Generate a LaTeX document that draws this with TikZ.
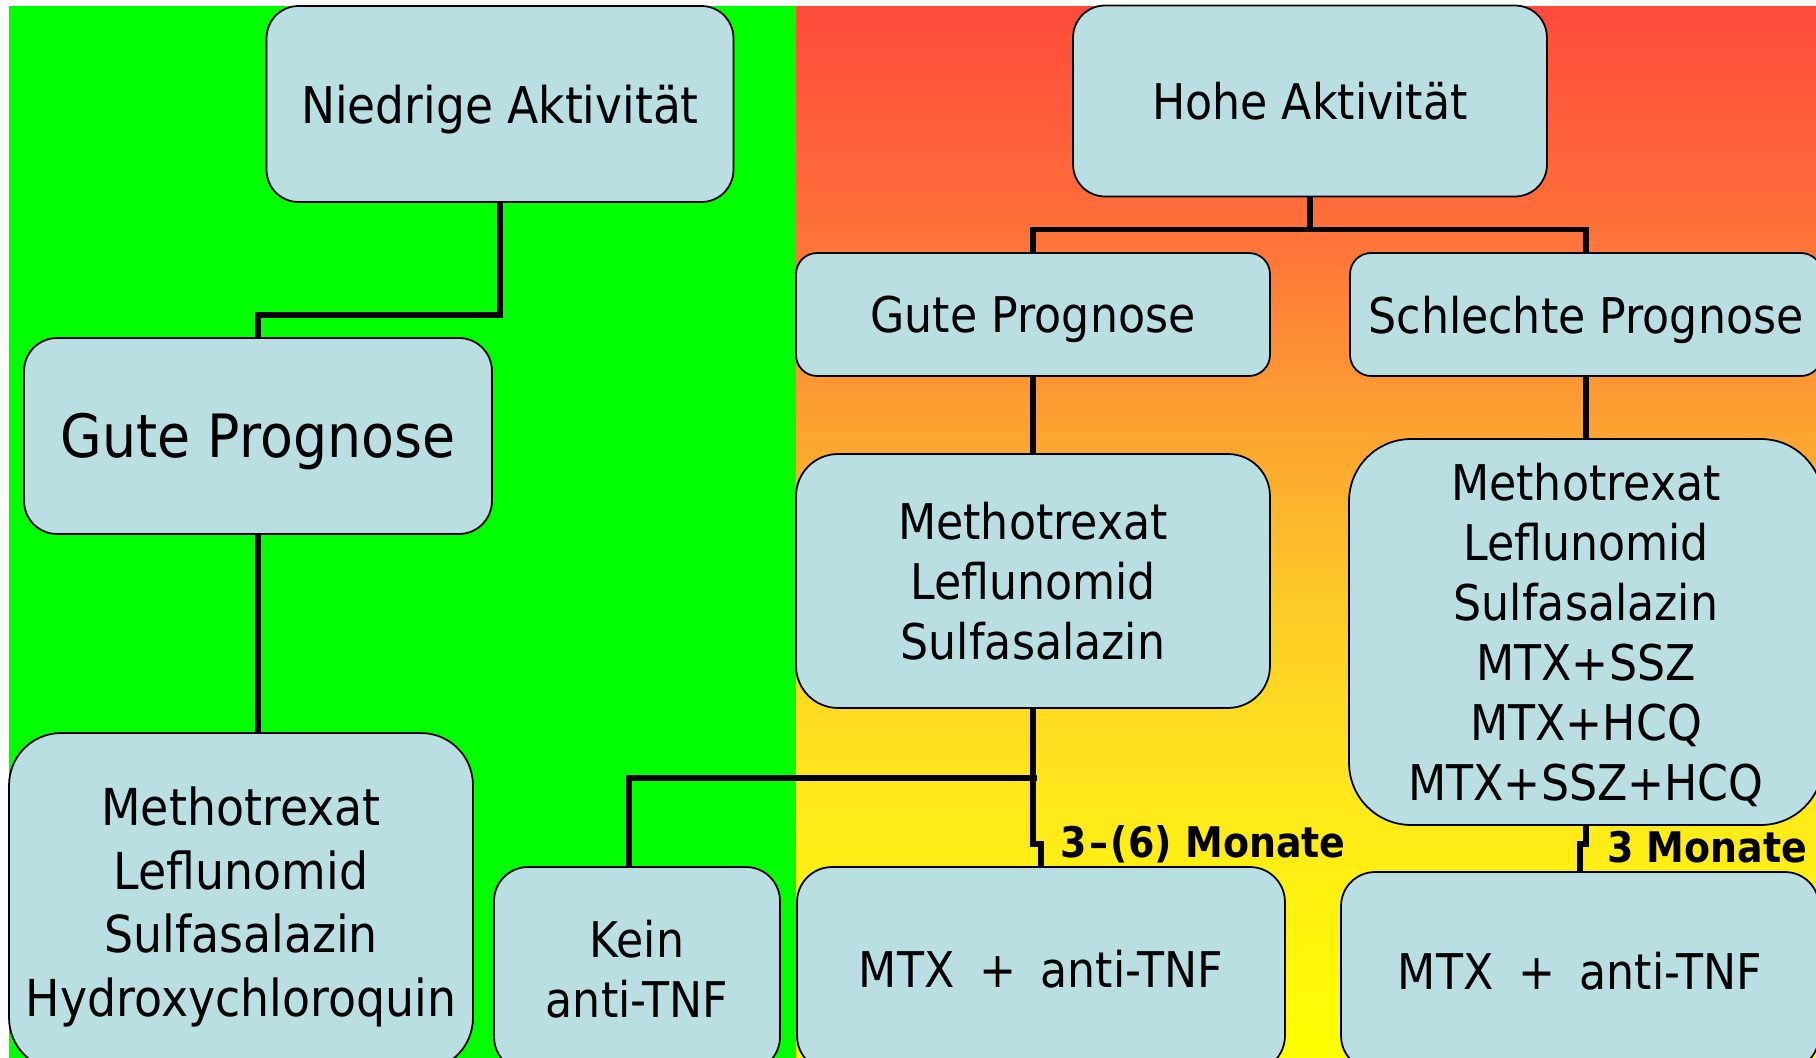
\documentclass[tikz,border=0pt]{standalone}
\usepackage{fontspec}
\setmainfont{DejaVu Sans}[FakeStretch=0.9]
\definecolor{boxfill}{RGB}{186,223,226}
\definecolor{ga}{RGB}{255,75,60}
\definecolor{gb}{RGB}{255,110,58}
\definecolor{gc}{RGB}{252,155,50}
\definecolor{gd}{RGB}{253,200,40}
\definecolor{ge}{RGB}{255,232,28}
\definecolor{gf}{RGB}{255,255,0}
\pgfdeclareverticalshading{hotgrad}{100bp}{color(0bp)=(gf); color(25bp)=(gf); color(37.5bp)=(ge); color(47bp)=(gd); color(56.5bp)=(gc); color(65bp)=(gb); color(75bp)=(ga); color(100bp)=(ga)}
\tikzset{
  box/.style={draw=black, line width=1pt, fill=boxfill, align=center, inner sep=0pt,
    text depth=0pt, font=\fontsize{28}{34.2}\selectfont},
  conn/.style={line width=3.2pt, draw=black},
  lab/.style={inner sep=0pt, anchor=base west, font=\fontsize{24}{28}\selectfont\bfseries},
}
\begin{document}
\begin{tikzpicture}[x=0.02cm, y=-0.02cm]
\useasboundingbox (0,0) rectangle (1816,1058);
\fill[white] (0,0) rectangle (1816,1058);
\begin{scope}
\clip (0,0) rectangle (1816,1058);
\fill[green] (9,6) rectangle (796,1058);
\shade[shading=hotgrad] (796,6) rectangle (1816,1058);

% boxes
\node[box, minimum width=9.34cm, minimum height=3.92cm, rounded corners=0.64cm, font=\fontsize{28.8}{34.2}\selectfont] (niedrig) at (500,104) {Niedrige Aktivität};
\node[box, minimum width=9.48cm, minimum height=3.82cm, rounded corners=0.64cm] (hohe) at (1310,101) {Hohe Aktivität};
\node[box, minimum width=9.36cm, minimum height=3.92cm, rounded corners=0.66cm, font=\fontsize{34}{40}\selectfont, text height=24.8pt, text depth=0pt] (guteL) at (258,436) {Gute Prognose};
\node[box, minimum width=9.48cm, minimum height=2.46cm, rounded corners=0.42cm] (guteR) at (1033,314.5) {Gute Prognose};
\node[box, minimum width=9.44cm, minimum height=2.46cm, rounded corners=0.42cm] (schlecht) at (1586,314.5) {Schlechte Prognose};
\node[box, minimum width=9.48cm, minimum height=5.08cm, rounded corners=0.84cm] (medsM) at (1033,581) {Methotrexat\\Leflunomid\\Sulfasalazin};
\node[box, minimum width=9.48cm, minimum height=7.72cm, rounded corners=1.24cm] (medsR) at (1586,632) {Methotrexat\\Leflunomid\\Sulfasalazin\\MTX+SSZ\\MTX+HCQ\\MTX+SSZ+HCQ};
\node[box, minimum width=9.28cm, minimum height=6.74cm, rounded corners=1.04cm, font=\fontsize{29}{36.2}\selectfont] (medsL) at (241,901.5) {Methotrexat\\Leflunomid\\Sulfasalazin\\Hydroxychloroquin};
\node[box, minimum width=5.72cm, minimum height=4.08cm, rounded corners=0.68cm] (kein) at (637,969) {Kein\\anti-TNF};
\node[box, minimum width=9.76cm, minimum height=4.08cm, rounded corners=0.7cm] (mtxM) at (1041,969) {MTX\hspace{0.5em}+\hspace{0.5em}anti-TNF};
\node[box, minimum width=9.56cm, minimum height=3.96cm, rounded corners=0.68cm] (mtxR) at (1580,971) {MTX\hspace{0.5em}+\hspace{0.5em}anti-TNF};

% connectors
\draw[conn] (niedrig.south) -- ++(0,112) -| (guteL.north);
\draw[conn] (guteL.south) -- (guteL.south |- medsL.north);
\draw[conn] (hohe.south) -- ++(0,32) coordinate (hb);
\draw[conn] (guteR.north) |- (hb) -| (schlecht.north);
\draw[conn] (guteR.south) -- (medsM.north);
\draw[conn] (schlecht.south) -- (medsR.north);
\draw[conn] (medsM.south) -- ++(0,69) coordinate (j1) -- ++(0,66) -| (mtxM.north);
\draw[conn] ([xshift=0.08cm]j1) -| ([xshift=-0.16cm]kein.north);
\draw[conn] (medsR.south) -- ++(0,18) -| (mtxR.north);

% labels
\node[lab] (lab1) at (1060,857) {3\kern1.5pt–\kern1.5pt(6) Monate};
\node[lab] (lab2) at (1607,862) {3 Monate};
\end{scope}
\end{tikzpicture}
\end{document}
